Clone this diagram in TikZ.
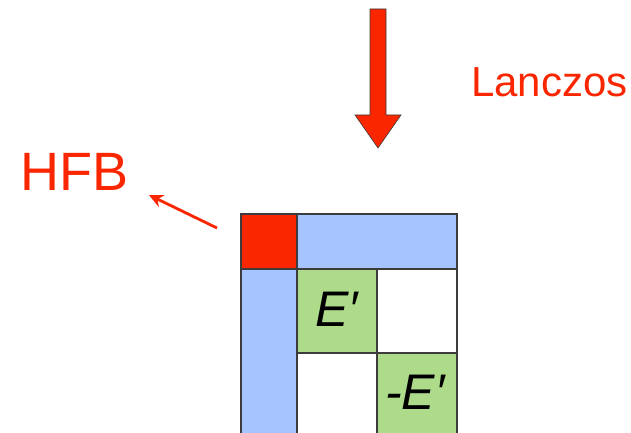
\documentclass[tikz,border=0pt]{standalone}
\usepackage{fontspec}
\setmainfont{Liberation Sans}
\usetikzlibrary{arrows.meta}
\definecolor{hred}{RGB}{250,38,0}
\definecolor{hblue}{RGB}{166,196,255}
\definecolor{hgreen}{RGB}{173,219,137}
\definecolor{hline}{RGB}{60,60,60}
\tikzset{
  cell/.style={draw=hline, line width=1.6pt},
  lbl/.style={text=hred, inner sep=0pt, anchor=base west},
  ent/.style={inner sep=0pt, anchor=base, font=\fontsize{50}{50}\selectfont\itshape}
}
\begin{document}
\begin{tikzpicture}[x=1pt,y=-1pt]
\useasboundingbox (0,0) rectangle (631,433);
\begin{scope}
\clip (0,0) rectangle (631,433);
% cells
\path[cell, fill=hred] (241,214) rectangle (297,269);
\path[cell, fill=hblue] (297,214) rectangle (457,269);
\path[cell, fill=hblue] (241,269) rectangle (297,440);
\path[cell, fill=hgreen] (297,269) rectangle (377,353);
\path[cell, fill=white] (377,269) rectangle (457,353);
\path[cell, fill=white] (297,353) rectangle (377,440);
\path[cell, fill=hgreen] (377,353) rectangle (457,440);
\end{scope}
\node[ent] (e1) at (337,326) {E′};
\node[ent] (e2) at (415,409) {-E′};
% big arrow
\path[fill=hred, draw=hline, line width=0.6pt, line join=miter]
  (370,9) -- (386,9) -- (386,115) -- (401,115) -- (378,148) -- (355,115) -- (370,115) -- cycle;
% labels
\node[lbl, font=\fontsize{42}{42}\selectfont] (lan) at (471,97) {Lanczos};
\node[lbl, font=\fontsize{54}{54}\selectfont] (hfb) at (20,190) {HFB};
\coordinate (hs) at (217,228);
\coordinate (ht) at (149,195);
\draw[hred, line width=2.8pt, -{Stealth[length=14pt,width=13pt]}] (hs) -- (ht);
\end{tikzpicture}
\end{document}
